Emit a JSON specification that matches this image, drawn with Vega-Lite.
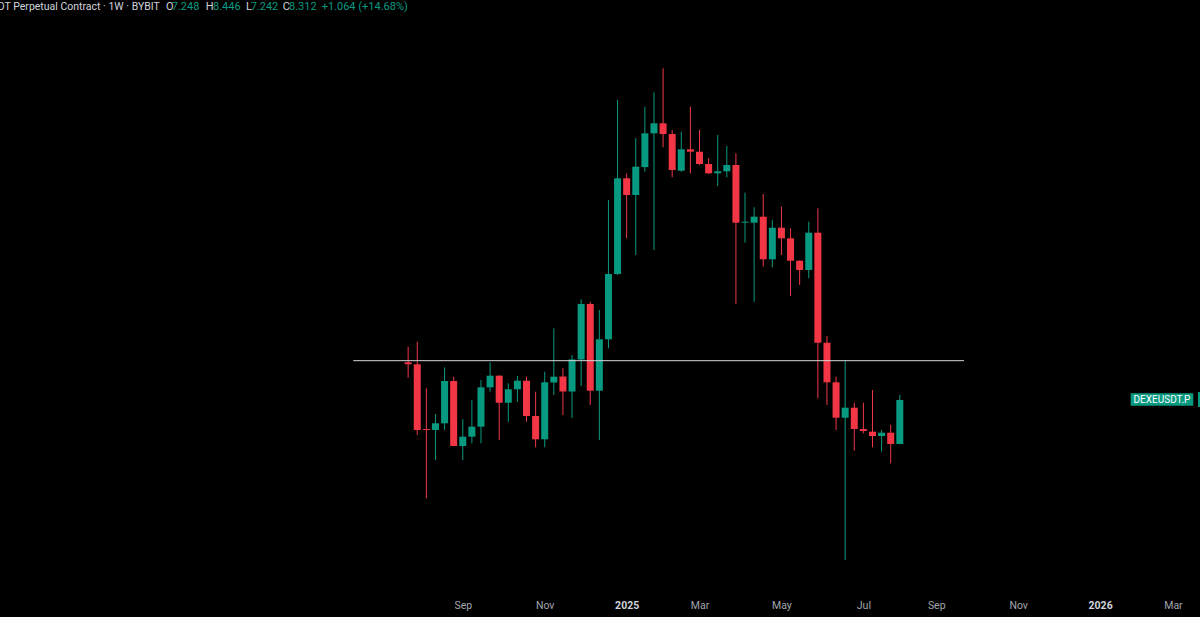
{
  "$schema": "https://vega.github.io/schema/vega-lite/v6.json",
  "width": 1200,
  "height": 596,
  "autosize": {"type": "none"},
  "padding": {"left": 0, "right": 0, "top": 0, "bottom": 21},
  "background": "#000000",
  "config": {"view": {"stroke": null}, "font": "Roboto"},
  "datasets": {
    "candles": [
      {"date":"2024-07-22","open":9.348,"high":9.813,"low":8.910,"close":9.290},
      {"date":"2024-07-29","open":9.290,"high":9.967,"low":7.453,"close":7.571},
      {"date":"2024-08-05","open":7.594,"high":8.620,"low":6.119,"close":7.571},
      {"date":"2024-08-12","open":7.571,"high":7.957,"low":6.895,"close":7.730},
      {"date":"2024-08-19","open":7.730,"high":9.203,"low":7.571,"close":8.819},
      {"date":"2024-08-26","open":8.819,"high":8.938,"low":7.195,"close":7.202},
      {"date":"2024-09-02","open":7.202,"high":7.827,"low":6.895,"close":7.414},
      {"date":"2024-09-09","open":7.414,"high":8.312,"low":7.263,"close":7.649},
      {"date":"2024-09-16","open":7.649,"high":8.846,"low":7.263,"close":8.647},
      {"date":"2024-09-23","open":8.647,"high":9.348,"low":8.530,"close":8.966},
      {"date":"2024-09-30","open":8.966,"high":8.975,"low":7.338,"close":8.242},
      {"date":"2024-10-07","open":8.242,"high":8.756,"low":7.769,"close":8.594},
      {"date":"2024-10-14","open":8.594,"high":8.957,"low":8.268,"close":8.827},
      {"date":"2024-10-21","open":8.827,"high":8.938,"low":7.769,"close":7.908},
      {"date":"2024-10-28","open":7.908,"high":8.530,"low":7.173,"close":7.354},
      {"date":"2024-11-04","open":7.354,"high":9.078,"low":7.173,"close":8.783},
      {"date":"2024-11-11","open":8.778,"high":10.392,"low":8.442,"close":8.938},
      {"date":"2024-11-18","open":8.943,"high":9.175,"low":7.933,"close":8.535},
      {"date":"2024-11-25","open":8.535,"high":9.563,"low":7.859,"close":9.430},
      {"date":"2024-12-02","open":9.430,"high":11.375,"low":8.683,"close":11.210},
      {"date":"2024-12-09","open":11.210,"high":11.290,"low":8.184,"close":8.556},
      {"date":"2024-12-16","open":8.556,"high":11.002,"low":7.338,"close":10.042},
      {"date":"2024-12-23","open":10.042,"high":15.499,"low":9.765,"close":12.308},
      {"date":"2024-12-30","open":12.308,"high":21.164,"low":12.28,"close":16.583},
      {"date":"2025-01-06","open":16.583,"high":16.843,"low":13.756,"close":15.742},
      {"date":"2025-01-13","open":15.742,"high":18.783,"low":13.058,"close":17.193},
      {"date":"2025-01-20","open":17.17,"high":20.726,"low":16.927,"close":19.078},
      {"date":"2025-01-27","open":19.078,"high":21.677,"low":13.263,"close":19.682},
      {"date":"2025-02-03","open":19.682,"high":23.360,"low":18.264,"close":19.037},
      {"date":"2025-02-10","open":19.037,"high":19.275,"low":16.634,"close":17.017},
      {"date":"2025-02-17","open":16.980,"high":19.173,"low":16.927,"close":18.151},
      {"date":"2025-02-24","open":18.151,"high":20.726,"low":16.843,"close":18.015},
      {"date":"2025-03-03","open":18.015,"high":19.275,"low":17.284,"close":17.338},
      {"date":"2025-03-10","open":17.338,"high":17.649,"low":16.806,"close":16.843},
      {"date":"2025-03-17","open":16.843,"high":18.977,"low":16.190,"close":16.948},
      {"date":"2025-03-24","open":16.948,"high":18.338,"low":16.634,"close":17.284},
      {"date":"2025-03-31","open":17.284,"high":17.926,"low":11.210,"close":14.440},
      {"date":"2025-04-07","open":14.440,"high":15.855,"low":13.568,"close":14.486},
      {"date":"2025-04-14","open":14.440,"high":15.150,"low":11.290,"close":14.713},
      {"date":"2025-04-21","open":14.713,"high":15.791,"low":12.591,"close":12.884},
      {"date":"2025-04-28","open":12.884,"high":14.563,"low":12.567,"close":14.217},
      {"date":"2025-05-05","open":14.217,"high":15.179,"low":13.058,"close":13.756},
      {"date":"2025-05-12","open":13.756,"high":14.191,"low":11.492,"close":12.828},
      {"date":"2025-05-19","open":12.828,"high":12.84,"low":11.893,"close":12.462},
      {"date":"2025-05-26","open":12.462,"high":14.486,"low":12.144,"close":13.998},
      {"date":"2025-06-02","open":13.998,"high":15.103,"low":8.356,"close":9.936},
      {"date":"2025-06-09","open":9.936,"high":10.146,"low":8.184,"close":8.783},
      {"date":"2025-06-16","open":8.783,"high":8.938,"low":7.571,"close":7.866},
      {"date":"2025-06-23","open":7.866,"high":9.395,"low":5.049,"close":8.115},
      {"date":"2025-06-30","open":8.115,"high":8.242,"low":7.098,"close":7.594},
      {"date":"2025-07-07","open":7.594,"high":8.242,"low":7.493,"close":7.547},
      {"date":"2025-07-14","open":7.530,"high":8.575,"low":7.173,"close":7.430},
      {"date":"2025-07-21","open":7.430,"high":7.571,"low":7.076,"close":7.507},
      {"date":"2025-07-28","open":7.507,"high":7.689,"low":6.824,"close":7.248},
      {"date":"2025-08-04","open":7.248,"high":8.446,"low":7.242,"close":8.312}
    ]
  },
  "layer": [
    {
      "data": {"name": "candles"},
      "mark": {"type": "rule", "strokeWidth": 1},
      "encoding": {
        "x": {
          "field": "date", "type": "temporal",
          "scale": {"type": "utc", "nice": false, "padding": 0, "domain": [{"year": 2023, "month": 9, "date": 12, "hours": 4, "minutes": 48, "utc": true}, {"year": 2026, "month": 3, "date": 22, "hours": 19, "minutes": 12, "utc": true}]},
          "axis": {
            "title": null, "domain": false, "ticks": false, "grid": false,
            "labelPadding": 4,
            "labelFontSize": 10.5, "labelFont": "Roboto", "labelOverlap": false, "labelFlush": false,
            "labelColor": {"condition": {"test": "utcmonth(datum.value) == 0", "value": "#d1d4dc"}, "value": "#a3a6af"},
            "labelFontWeight": {"condition": {"test": "utcmonth(datum.value) == 0", "value": "bold"}, "value": "normal"},
            "labelExpr": "utcmonth(datum.value) == 0 ? utcFormat(datum.value, '%Y') : utcFormat(datum.value, '%b')",
            "values": [
              {"year": 2024, "month": 9, "date": 2, "utc": true},
              {"year": 2024, "month": 11, "date": 4, "utc": true},
              {"year": 2025, "month": 1, "date": 6, "utc": true},
              {"year": 2025, "month": 3, "date": 3, "utc": true},
              {"year": 2025, "month": 5, "date": 5, "utc": true},
              {"year": 2025, "month": 7, "date": 7, "utc": true},
              {"year": 2025, "month": 9, "date": 1, "utc": true},
              {"year": 2025, "month": 11, "date": 3, "utc": true},
              {"year": 2026, "month": 1, "date": 5, "utc": true},
              {"year": 2026, "month": 3, "date": 2, "utc": true}
            ]
          }
        },
        "y": {"field": "low", "type": "quantitative", "scale": {"type": "log", "domain": [4.5137, 28.899], "nice": false, "zero": false}, "axis": null},
        "y2": {"field": "high"},
        "color": {"condition": {"test": "datum.close >= datum.open", "value": "#089981"}, "value": "#F23645"}
      }
    },
    {
      "data": {"name": "candles"},
      "mark": {"type": "bar", "size": 7},
      "encoding": {
        "x": {"field": "date", "type": "temporal"},
        "y": {"field": "open", "type": "quantitative", "axis": null},
        "y2": {"field": "close"},
        "color": {"condition": {"test": "datum.close >= datum.open", "value": "#089981"}, "value": "#F23645"}
      }
    },
    {
      "data": {"values": [{}]},
      "mark": {"type": "rule", "strokeWidth": 1, "color": "#d6d6d6"},
      "encoding": {
        "x": {"datum": {"year": 2024, "month": 6, "date": 9, "hours": 19, "minutes": 12, "utc": true}, "type": "temporal"},
        "x2": {"datum": {"year": 2025, "month": 9, "date": 22, "hours": 7, "minutes": 12, "utc": true}},
        "y": {"datum": 9.395, "type": "quantitative", "axis": null}
      }
    },
    {
      "data": {"values": [{}]},
      "mark": {"type": "rect", "color": "#089981"},
      "encoding": {
        "x": {"datum": {"year": 2026, "month": 1, "date": 28, "hours": 11, "minutes": 46, "utc": true}, "type": "temporal"},
        "x2": {"datum": {"year": 2026, "month": 3, "date": 17, "hours": 14, "minutes": 53, "utc": true}},
        "y": {"datum": 8.4873, "type": "quantitative", "axis": null},
        "y2": {"datum": 8.1657}
      }
    },
    {
      "data": {"values": [{}]},
      "mark": {"type": "rect", "color": "#089981"},
      "encoding": {
        "x": {"datum": {"year": 2026, "month": 3, "date": 21, "hours": 5, "minutes": 30, "utc": true}, "type": "temporal"},
        "x2": {"datum": {"year": 2026, "month": 3, "date": 25, "utc": true}},
        "y": {"datum": 8.5218, "type": "quantitative", "axis": null},
        "y2": {"datum": 8.1327}
      }
    },
    {
      "data": {"values": [{}]},
      "mark": {"type": "text", "text": "DEXEUSDT.P", "color": "#ffffff", "fontSize": 10, "font": "Roboto", "align": "center", "baseline": "middle"},
      "encoding": {
        "x": {"datum": {"year": 2026, "month": 2, "date": 21, "hours": 13, "minutes": 26, "utc": true}, "type": "temporal"},
        "y": {"datum": 8.312, "type": "quantitative", "axis": null}
      }
    },
    {
      "data": {"values": [{}]},
      "mark": {"type": "text", "text": "DEXEUSDT Perpetual Contract · 1W · BYBIT", "color": "#d1d4dc", "fontSize": 10.5, "font": "Roboto", "align": "right", "baseline": "middle"},
      "encoding": {
        "x": {"datum": {"year": 2024, "month": 1, "date": 13, "utc": true}, "type": "temporal"},
        "y": {"datum": 28.276, "type": "quantitative", "axis": null}
      }
    },
    {
      "data": {"values": [{}]},
      "mark": {"type": "text", "text": "O", "color": "#d1d4dc", "fontSize": 11, "font": "Roboto", "align": "left", "baseline": "middle"},
      "encoding": {
        "x": {"datum": {"year": 2024, "month": 1, "date": 17, "hours": 19, "minutes": 41, "utc": true}, "type": "temporal"},
        "y": {"datum": 28.276, "type": "quantitative", "axis": null}
      }
    },
    {
      "data": {"values": [{}]},
      "mark": {"type": "text", "text": "7.248", "color": "#089981", "fontSize": 11, "font": "Roboto", "align": "left", "baseline": "middle"},
      "encoding": {
        "x": {"datum": {"year": 2024, "month": 1, "date": 22, "hours": 5, "utc": true}, "type": "temporal"},
        "y": {"datum": 28.276, "type": "quantitative", "axis": null}
      }
    },
    {
      "data": {"values": [{}]},
      "mark": {"type": "text", "text": "H", "color": "#d1d4dc", "fontSize": 11, "font": "Roboto", "align": "left", "baseline": "middle"},
      "encoding": {
        "x": {"datum": {"year": 2024, "month": 2, "date": 17, "hours": 8, "utc": true}, "type": "temporal"},
        "y": {"datum": 28.276, "type": "quantitative", "axis": null}
      }
    },
    {
      "data": {"values": [{}]},
      "mark": {"type": "text", "text": "8.446", "color": "#089981", "fontSize": 11, "font": "Roboto", "align": "left", "baseline": "middle"},
      "encoding": {
        "x": {"datum": {"year": 2024, "month": 2, "date": 22, "hours": 23, "utc": true}, "type": "temporal"},
        "y": {"datum": 28.276, "type": "quantitative", "axis": null}
      }
    },
    {
      "data": {"values": [{}]},
      "mark": {"type": "text", "text": "L", "color": "#d1d4dc", "fontSize": 11, "font": "Roboto", "align": "left", "baseline": "middle"},
      "encoding": {
        "x": {"datum": {"year": 2024, "month": 3, "date": 19, "hours": 8, "utc": true}, "type": "temporal"},
        "y": {"datum": 28.276, "type": "quantitative", "axis": null}
      }
    },
    {
      "data": {"values": [{}]},
      "mark": {"type": "text", "text": "7.242", "color": "#089981", "fontSize": 11, "font": "Roboto", "align": "left", "baseline": "middle"},
      "encoding": {
        "x": {"datum": {"year": 2024, "month": 3, "date": 22, "hours": 22, "utc": true}, "type": "temporal"},
        "y": {"datum": 28.276, "type": "quantitative", "axis": null}
      }
    },
    {
      "data": {"values": [{}]},
      "mark": {"type": "text", "text": "C", "color": "#d1d4dc", "fontSize": 11, "font": "Roboto", "align": "left", "baseline": "middle"},
      "encoding": {
        "x": {"datum": {"year": 2024, "month": 4, "date": 16, "hours": 13, "utc": true}, "type": "temporal"},
        "y": {"datum": 28.276, "type": "quantitative", "axis": null}
      }
    },
    {
      "data": {"values": [{}]},
      "mark": {"type": "text", "text": "8.312", "color": "#089981", "fontSize": 11, "font": "Roboto", "align": "left", "baseline": "middle"},
      "encoding": {
        "x": {"datum": {"year": 2024, "month": 4, "date": 21, "hours": 9, "utc": true}, "type": "temporal"},
        "y": {"datum": 28.276, "type": "quantitative", "axis": null}
      }
    },
    {
      "data": {"values": [{}]},
      "mark": {"type": "text", "text": "+1.064 (+14.68%)", "color": "#089981", "fontSize": 11, "font": "Roboto", "align": "left", "baseline": "middle"},
      "encoding": {
        "x": {"datum": {"year": 2024, "month": 5, "date": 16, "hours": 12, "utc": true}, "type": "temporal"},
        "y": {"datum": 28.276, "type": "quantitative", "axis": null}
      }
    }
  ]
}
